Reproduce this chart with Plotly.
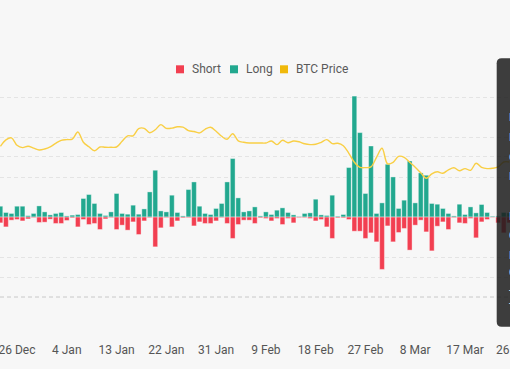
import plotly.graph_objects as go
import pandas as pd

# ---------------- data ----------------
dates = pd.date_range("2024-12-23", "2025-03-25", freq="D").strftime("%Y-%m-%d").tolist()

long_liq = [
    17.5, 7.2, 5.6, 17.5, 17.5, 2.0, 5.6, 18.0, 8.2, 3.3,
    5.6, 7.2, 1.6, 2.8, 3.9, 30.2, 36.7, 22.0, 5.6, 2.3,
    8.2, 38.4, 5.6, 4.4, 19.2, 4.4, 13.1, 41.0, 76.6, 9.8,
    8.2, 35.6, 7.2, 1.6, 44.9, 57.4, 17.5, 5.6, 3.9, 13.8,
    22.0, 57.4, 95.8, 31.2, 8.2, 9.8, 16.4, 1.6, 8.2, 3.9,
    11.0, 14.8, 7.2, 3.3, 0.8, 5.6, 6.6, 29.0, 3.3, 2.3,
    35.6, 1.1, 3.9, 81.0, 198.4, 138.4, 38.4, 116.4, 5.6, 23.0,
    86.4, 65.6, 13.8, 27.4, 91.8, 23.0, 72.2, 68.4, 22.0, 20.8,
    13.8, 5.6, 1.6, 20.8, 3.9, 16.4, 6.6, 20.3, 7.2, 1.1,
    1.6, 7.2, 6.6,
]

short_liq = [
    9.8, 16.4, 5.4, 4.3, 6.6, 3.3, 1.3, 9.2, 8.7, 3.8,
    10.8, 10.8, 5.9, 1.6, 16.4, 4.3, 12.5, 10.8, 20.7, 3.3,
    1.3, 20.7, 13.6, 21.8, 8.2, 28.9, 6.6, 1.3, 49.2, 18.0,
    1.3, 16.4, 6.6, 1.6, 1.3, 14.8, 8.2, 10.8, 10.8, 6.6,
    1.3, 10.8, 35.4, 12.5, 5.4, 5.4, 10.8, 1.6, 2.6, 6.6,
    2.6, 12.5, 2.6, 9.8, 1.3, 1.3, 2.6, 6.6, 4.3, 16.4,
    35.4, 1.6, 1.6, 4.3, 23.5, 23.5, 35.4, 26.2, 41.0, 86.3,
    14.8, 41.0, 25.6, 19.0, 54.6, 13.6, 5.4, 24.6, 55.8, 15.3,
    8.2, 20.7, 1.3, 9.8, 10.8, 2.6, 34.4, 8.2, 4.3, 0.8,
    9.8, 26.2, 9.8,
]

btc_price = [
    75350, 78600, 79600, 75850, 74700, 75350, 74450, 73500, 74000, 75100,
    76850, 78350, 78700, 78950, 82500, 77350, 75100, 73100, 75000, 74850,
    74850, 75000, 77850, 80600, 80600, 84200, 84350, 82100, 83600, 86200,
    84350, 84450, 85100, 84950, 83200, 82750, 82050, 83850, 84850, 82850,
    80350, 78850, 81600, 78100, 77350, 77000, 77000, 77000, 77000, 78000,
    76200, 78350, 77100, 78000, 77600, 76600, 76200, 76350, 77350, 78700,
    76700, 76850, 75600, 71850, 67350, 64850, 64700, 65100, 69850, 74350,
    66600, 67350, 70350, 69850, 67350, 64850, 62100, 59350, 61600, 62600,
    61850, 63600, 64600, 63100, 64200, 63350, 66850, 64850, 64200, 64350,
    65100, 67500, 67500,
]

tick_dates = ["2024-12-26", "2025-01-04", "2025-01-13", "2025-01-22", "2025-01-31",
              "2025-02-09", "2025-02-18", "2025-02-27", "2025-03-08", "2025-03-17",
              "2025-03-26"]
tick_labels = ["26 Dec", "4 Jan", "13 Jan", "22 Jan", "31 Jan", "9 Feb", "18 Feb",
               "27 Feb", "8 Mar", "17 Mar", "26 Mar"]

# rows of the (mostly cut-off) hover tooltip at the right edge
tooltip_rows = ["Binance", "Bybit", "OKX", "Bitget", "Hyperliquid", "Coinbase",
                "Bitmex", "CoinEx", "-", "-"]
tooltip_row_y = [117, 137, 157, 176, 216, 235, 255, 272, 290, 303]

# ---------------- style ----------------
W, H = 600, 369          # page is wider than the 510px window; the window crops it
T, B = 95, 72
RED = "#f23f51"
GREEN = "#22a88f"
GOLD = "#f0b90b"
LINE = "#f9cf45"
BG = "#f7f7f7"
GRID = "#e4e4e4"

def px(x):
    return x / W

def py(y):
    return (H - B - y) / (H - T - B)

fig = go.Figure()
fig.add_trace(go.Bar(
    x=dates, y=[-v for v in short_liq], name="Short",
    marker=dict(color=RED, line=dict(color="rgba(255,255,255,0.45)", width=0.8)),
    yaxis="y", showlegend=False, hoverinfo="skip"))
fig.add_trace(go.Bar(
    x=dates, y=long_liq, name="Long",
    marker=dict(color=GREEN, line=dict(color="rgba(255,255,255,0.45)", width=0.8)),
    yaxis="y", showlegend=False, hoverinfo="skip"))
fig.add_trace(go.Scatter(
    x=dates, y=btc_price, name="BTC Price", mode="lines",
    line=dict(color=LINE, width=1.4, shape="spline", smoothing=1.0),
    yaxis="y2", showlegend=False, hoverinfo="skip"))

shapes = []
shapes.append(dict(type="line", xref="paper", yref="paper", x0=0, x1=1, y0=0, y1=0,
                   line=dict(color="#c8c8c8", width=1, dash="4px,3px"), layer="above"))

annotations = []
for (x0, col, label) in [(176, RED, "Short"), (230, GREEN, "Long"), (280, GOLD, "BTC Price")]:
    shapes.append(dict(type="rect", xref="paper", yref="paper",
                       x0=px(x0), x1=px(x0 + 8), y0=py(73.3), y1=py(65.3),
                       fillcolor=col, line=dict(width=0)))
    annotations.append(dict(text=label, xref="paper", yref="paper", x=px(x0 + 13.5), y=py(69.3),
                            xanchor="left", yanchor="middle", showarrow=False,
                            font=dict(family="Roboto", size=12, color="#5a5a5a")))

# tooltip panel (cut off by the window's right edge)
tx0, tx1, ty0, ty1, r = 496.7, 590, 58.3, 326.7, 5
def P(x, y):
    return f"{px(x):.5f},{py(y):.5f}"
path = (f"M{P(tx0 + r, ty0)} L{P(tx1, ty0)} L{P(tx1, ty1)} L{P(tx0 + r, ty1)} "
        f"Q{P(tx0, ty1)} {P(tx0, ty1 - r)} L{P(tx0, ty0 + r)} Q{P(tx0, ty0)} {P(tx0 + r, ty0)} Z")
shapes.append(dict(type="path", xref="paper", yref="paper", path=path,
                   fillcolor="rgba(28,28,28,0.85)", line=dict(width=0), layer="above"))

for label, yy in zip(tooltip_rows, tooltip_row_y):
    annotations.append(dict(text=label, xref="paper", yref="paper", x=px(507), y=py(yy),
                            xanchor="left", yanchor="middle", showarrow=False,
                            font=dict(family="Roboto", size=11, color="#ffffff")))

fig.update_layout(
    width=W, height=H,
    margin=dict(l=0, r=0, t=T, b=B),
    paper_bgcolor=BG, plot_bgcolor=BG,
    barmode="relative", bargap=0.14,
    showlegend=False,
    xaxis=dict(
        type="date",
        range=["2024-12-22 22:13", "2025-04-10 09:50"],
        tickvals=tick_dates, ticktext=tick_labels,
        tickfont=dict(family="Roboto", size=12, color="#555555"),
        showgrid=False, zeroline=False, showline=False, ticks="",
        ticklabelstandoff=44, ticklabeloverflow="allow",
    ),
    yaxis=dict(
        range=[-131.6, 200.2], dtick=100, tick0=0,
        showticklabels=False, showgrid=True, gridcolor=GRID, griddash="4px,3px",
        gridwidth=1, zeroline=False, showline=False,
    ),
    yaxis2=dict(
        overlaying="y", side="right",
        range=[0, 101000], dtick=20000, tick0=0,
        showticklabels=False, showgrid=True, gridcolor=GRID, griddash="4px,3px",
        gridwidth=1, zeroline=False, showline=False,
    ),
    shapes=shapes,
    annotations=annotations,
)

fig.write_html(
    "out.html",
    config={"displayModeBar": False},
    post_script="document.body.style.margin='0';document.body.style.overflow='hidden';"
                "document.documentElement.style.overflow='hidden';",
)
